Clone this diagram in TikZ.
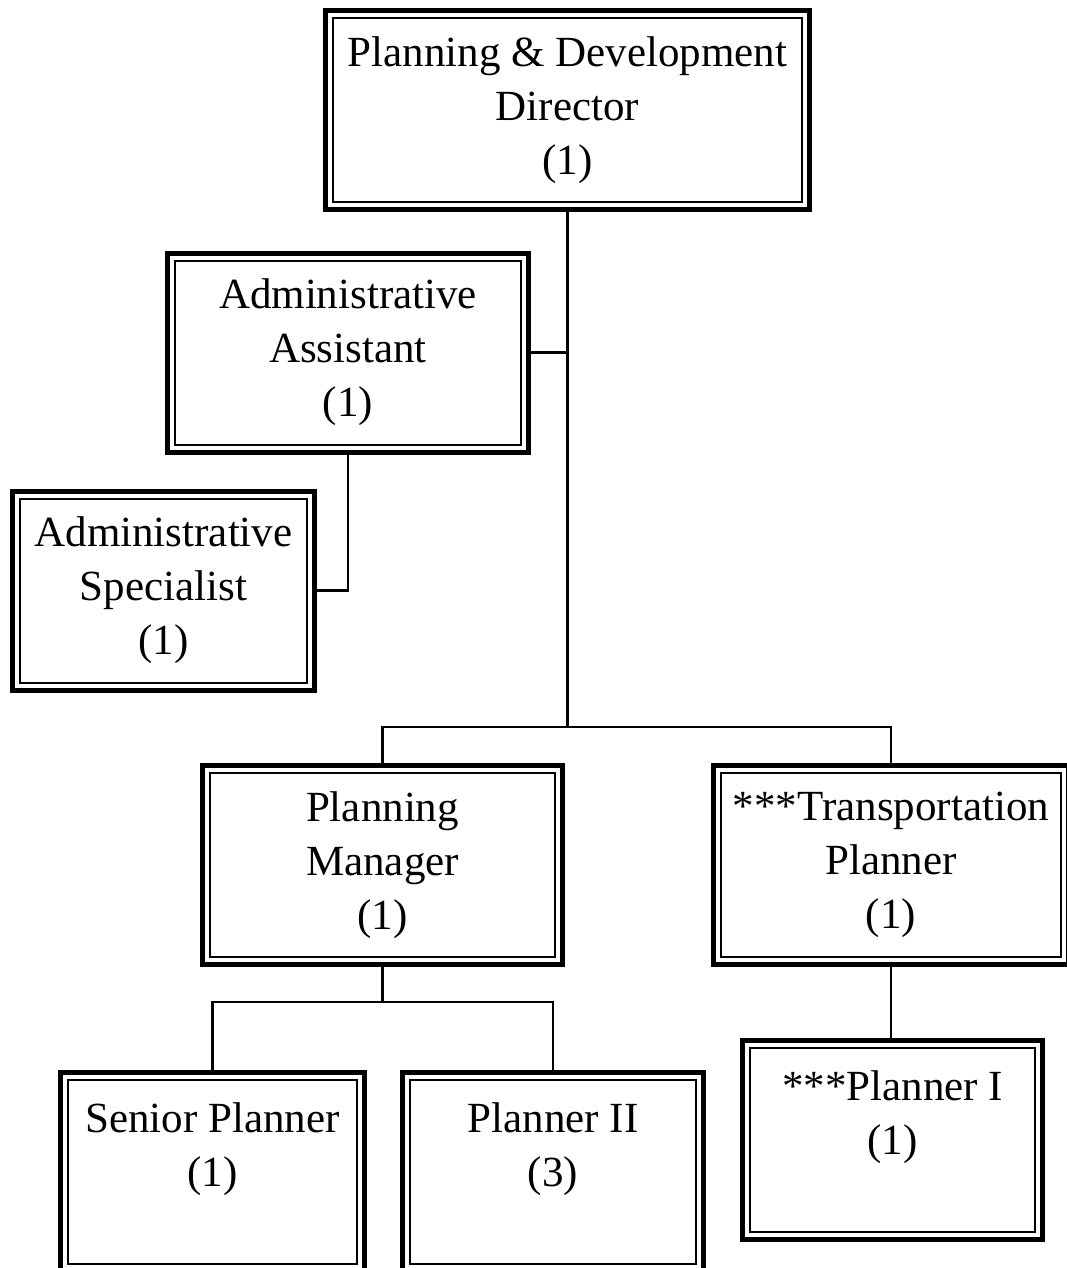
\documentclass[tikz,border=0pt]{standalone}
\usepackage{fontspec}
\setmainfont{Liberation Serif}
\usetikzlibrary{positioning,calc}
\tikzset{
  posbox/.style={rectangle, draw=black, line width=5pt, fill=white,
                 minimum width=#1, minimum height=199pt, inner sep=0pt,
                 align=center, font=\fontsize{43}{54}\selectfont,
                 path picture={\draw[line width=2pt]
                   ([shift={(7.5pt,-7.5pt)}]path picture bounding box.north west) rectangle
                   ([shift={(-7.5pt,7.5pt)}]path picture bounding box.south east);}},
  link/.style={draw=black, line width=2.5pt},
}
\begin{document}
\begin{tikzpicture}[x=1pt,y=1pt]
  \useasboundingbox (0,0) rectangle (1067,-1268);
  % top
  \node[posbox=484pt] (dir) at (567.5,-110) {Planning \& Development\\Director\\(1)};
  \node[posbox=361pt] (asst) at (348,-352.5) {Administrative\\Assistant\\(1)};
  \node[posbox=302pt] (spec) at (163.5,-590.5) {Administrative\\Specialist\\(1)};
  % middle row
  \node[posbox=360pt] (mgr) at (382.5,-865) {Planning\\Manager\\(1)};
  \node[posbox=355pt] (trans) at (891,-865) {***Transportation\\Planner\\(1)};
  % bottom row
  \node[posbox=304pt] (senior) at (212.5,-1172) {Senior Planner\\(1)\\~};
  \node[posbox=301pt] (p2) at (553,-1172) {Planner II\\(3)\\~};
  \node[posbox=300pt] (p1) at (892.5,-1139.5) {***Planner I\\(1)\\~};
  \coordinate (split) at (567.5,-727);
  \coordinate (msplit) at (382.5,-1002);
  \draw[link] (dir.south) -- (split);
  \draw[link] (asst.east) -- (asst.east -| dir.south);
  \draw[link] (asst.south) |- (spec.east);
  \draw[link] (mgr.north) |- (split) -| (trans.north);
  \draw[link] (mgr.south) -- (msplit);
  \draw[link] (senior.north) |- (msplit) -| (p2.north);
  \draw[link] (trans.south) -- (trans.south |- p1.north);
\end{tikzpicture}
\end{document}
